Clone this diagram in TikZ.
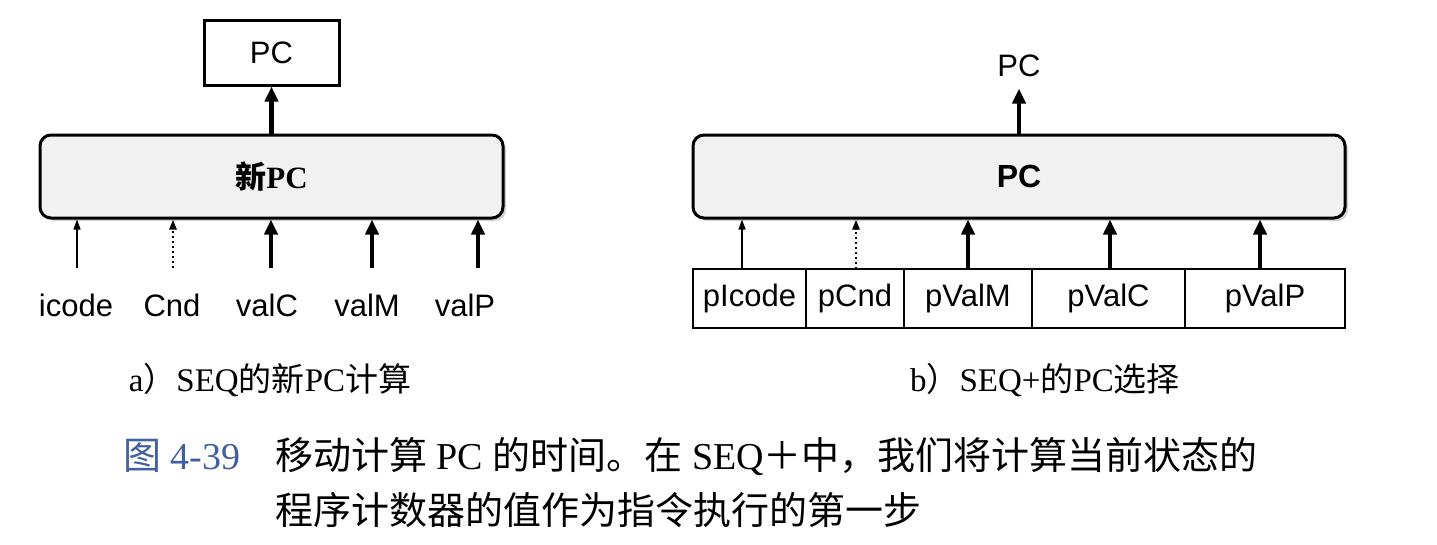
\documentclass[tikz,border=0pt]{standalone}
\usepackage{fontspec}
\usepackage{tikz}
\usetikzlibrary{arrows.meta,positioning,calc,shadows}
\setmainfont{Liberation Serif}
\setsansfont{Liberation Sans}
\newfontfamily\zhfont{Noto Sans CJK SC}
\definecolor{FigBlue}{HTML}{41609F}
\definecolor{SoftGray}{HTML}{F1F1F1}
\definecolor{ShadeGray}{HTML}{BDBDBD}
\tikzset{
  BX/.style={rectangle,draw,line width=3pt,
             minimum width=135pt,minimum height=65pt,
             font=\fontsize{31}{36}\selectfont\sffamily},
  RR/.style={rectangle,rounded corners=11pt,draw,line width=3pt,
             fill=SoftGray,minimum height=83pt,
             drop shadow={shadow xshift=3pt,shadow yshift=-3pt,fill=ShadeGray,opacity=0.7}},
  CL/.style={rectangle,draw,line width=2.5pt,outer sep=0pt,inner sep=0pt,
             minimum height=59pt,font=\fontsize{31}{36}\selectfont\sffamily},
  LB/.style={font=\fontsize{31}{36}\selectfont\sffamily},
  CP/.style={font=\fontsize{33}{40}\selectfont},
  FC/.style={font=\fontsize{38}{55}\selectfont,anchor=base west,inner sep=0pt},
  arrT/.style={-{Triangle[length=15pt,width=13pt]},line width=4.5pt},
  arrS/.style={-{Triangle[length=10pt,width=7pt]},line width=1.5pt},
  arrD/.style={arrS,line width=2.5pt,dash pattern=on 2.5pt off 2.5pt}
}
\begin{document}
\begin{tikzpicture}[x=1pt,y=-1pt]
  \useasboundingbox (0,0) rectangle (1437,544);

  % a) new PC
  \node[RR,minimum width=463pt,font=\fontsize{31}{36}\selectfont\bfseries] (newpc) at (271.5,176.5) {{\zhfont 新}PC};
  \node[BX,above=47pt of newpc] (pca) {PC};
  \draw[arrT](newpc)--(pca);
  \foreach \nm/\xa/\xl/\txt/\sty in {icode/77/76/icode/arrS,cnd/173/172/Cnd/arrD,valc/271/267/valC/arrT,valm/372/367/valM/arrT,valp/478/465/valP/arrT}{
    \node[LB] (l\nm) at (\xl,305) {\txt};
    \coordinate (s\nm) at (\xa,268);
    \draw[\sty](s\nm)--(s\nm |- newpc.south);
  }
  \node[CP] (capa) at (270,380) {a{\zhfont ）}SEQ{\zhfont 的新}PC{\zhfont 计算}};

  % b) PC selection
  \node[RR,minimum width=652pt,font=\fontsize{32}{36}\selectfont\sffamily\bfseries] (pcsel) at (1019,176.5) {PC};
  \node[LB,above=53pt of pcsel] (pcb) {PC};
  \draw[arrT,shorten >=8pt](pcsel)--(pcb);
  \node[CL,minimum width=113pt,anchor=west] (cicode) at (693,298.5) {pIcode};
  \node[CL,minimum width=98pt,right=0pt of cicode] (ccnd) {pCnd};
  \node[CL,minimum width=128pt,right=0pt of ccnd] (cvalm) {pValM};
  \node[CL,minimum width=153pt,right=0pt of cvalm] (cvalc) {pValC};
  \node[CL,minimum width=160pt,right=0pt of cvalc] (cvalp) {pValP};
  \foreach \nm/\dx/\sty in {cicode/-7.5/arrS,ccnd/1/arrD,cvalm/0/arrT,cvalc/1.5/arrT,cvalp/-5/arrT}{
    \coordinate (a\nm) at ($(\nm.north)+(\dx,0)$);
    \draw[\sty](a\nm)--(a\nm |- pcsel.south);
  }
  \node[CP] (capb) at (1045,380) {b{\zhfont ）}SEQ+{\zhfont 的}PC{\zhfont 选择}};

  % figure caption
  \node[FC,text=FigBlue] (fignum) at (123,469) {{\zhfont 图} 4-39};
  \node[FC] (figl1) at (275,469) {{\zhfont 移动计算} PC {\zhfont 的时间。在} SEQ{\zhfont ＋中，我们将计算当前状态的}};
  \node[FC] (figl2) at (275,524) {\zhfont 程序计数器的值作为指令执行的第一步};
\end{tikzpicture}
\end{document}
